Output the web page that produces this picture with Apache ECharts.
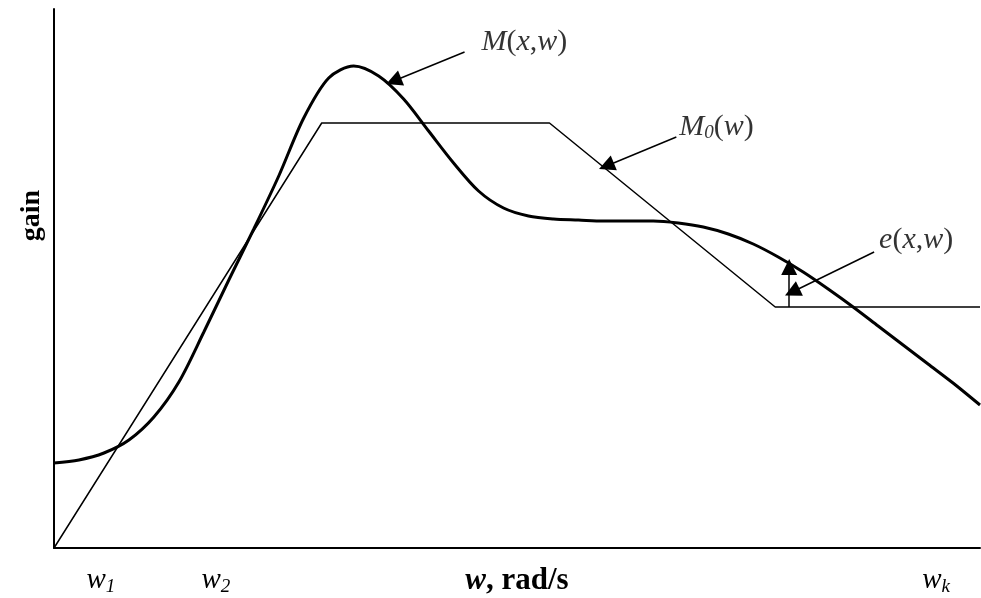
<!DOCTYPE html>
<html>
<head>
<meta charset="utf-8">
<script src="https://cdn.jsdelivr.net/npm/echarts@6/dist/echarts.min.js"></script>
<style>
html,body{margin:0;padding:0;background:#fff;}
#chart{width:981px;height:598px;}
</style>
</head>
<body>
<div id="chart"></div>
<script>
// Frequency axis (arbitrary units) and gain (arbitrary units)
const curveW    = [0, 25, 50, 75, 100, 125, 150, 175, 200, 225, 250, 275, 300, 325, 350, 375, 400, 425, 450, 475, 500, 525, 550, 575, 600, 625, 650, 675, 700, 725, 750, 775, 800, 825, 850, 875, 900, 927];
const curveGain = [85, 88, 95, 108, 131, 166, 216, 268, 319, 372, 430, 470, 482, 472, 449, 417, 385, 357, 340, 332, 329, 328, 327, 327, 327, 325, 321, 314, 304, 291, 276, 259, 241, 222, 203, 184, 165, 143];
const targetW    = [0, 268, 496, 722, 927];
const targetGain = [0, 425, 425, 241, 241];
const tickW      = [47, 162, 883];
const tickNames  = ['1', '2', 'k'];
const errorW     = 736;
const errorFrom  = 241;
const errorTo    = 281;
const labelPos   = [[428, 506], [626, 421], [826, 308]];
const leaderFrom = [[411, 496], [623, 411], [821, 296]];
const leaderTo   = [[340, 467], [553, 382], [739, 256]];

const FONT = '"Liberation Serif","Times New Roman",serif';
const chart = echarts.init(document.getElementById('chart'));

const italic = {fontFamily: FONT, fontStyle: 'italic', fontSize: 30, color: '#000'};
const normal = {fontFamily: FONT, fontSize: 30, color: '#000'};
const tickW2 = {fontFamily: FONT, fontStyle: 'italic', fontSize: 29, color: '#000'};
const subS = {fontFamily: FONT, fontStyle: 'italic', fontSize: 19, color: '#000', padding: [12, 0, 0, 0]};

const labelTexts = [
  '{i|M}{n|(}{i|x}{n|,}{i|w}{n|)}',
  '{i|M}{s|0}{n|(}{i|w}{n|)}',
  '{i|e}{n|(}{i|x}{n|,}{i|w}{n|)}'
];

const leaderLines = leaderFrom.map((p, k) => [{coord: p}, {coord: leaderTo[k]}]);
leaderLines.push([{coord: [errorW, errorFrom]}, {coord: [errorW, errorTo]}]);

chart.setOption({
  animation: false,
  grid: {left: 54, right: 1, top: 9, bottom: 50, containLabel: false, outerBoundsMode: 'none'},
  xAxis: {
    type: 'value', min: 0, max: 927,
    axisLine: {show: true, lineStyle: {color: '#000', width: 2}},
    axisTick: {show: false},
    splitLine: {show: false},
    axisLabel: {
      show: true, customValues: tickW, margin: 17,
      formatter: (v) => {
        const k = tickW.indexOf(v);
        return '{w|w}{s|' + tickNames[k] + '}';
      },
      rich: {w: tickW2, s: subS}
    },
    name: '{b|w}{c|, rad/s}', nameLocation: 'middle', nameGap: 17, nameMoveOverlap: false,
    nameTextStyle: {
      rich: {
        b: {fontFamily: FONT, fontStyle: 'italic', fontWeight: 'bold', fontSize: 31, color: '#000'},
        c: {fontFamily: FONT, fontWeight: 'bold', fontSize: 31, color: '#000'}
      }
    }
  },
  yAxis: {
    type: 'value', min: 0, max: 539,
    axisLine: {show: true, lineStyle: {color: '#000', width: 2}},
    axisTick: {show: false},
    axisLabel: {show: false},
    splitLine: {show: false}
  },
  graphic: [{
    type: 'text', left: 18, top: 190, rotation: Math.PI / 2,
    style: {text: 'gain', font: 'bold 28px ' + FONT, fill: '#000'}
  }],
  series: [
    {
      type: 'line', data: curveW.map((w, k) => [w, curveGain[k]]),
      smooth: 0.3, showSymbol: false, lineStyle: {color: '#000', width: 3}, z: 3
    },
    {
      type: 'line', data: targetW.map((w, k) => [w, targetGain[k]]),
      showSymbol: false, lineStyle: {color: '#000', width: 1.5}, z: 2
    },
    {
      type: 'scatter', data: labelPos, symbolSize: 0, silent: true,
      label: {
        show: true, position: 'right', distance: 0, color: '#000',
        formatter: (p) => labelTexts[p.dataIndex],
        rich: {i: italic, n: normal, s: subS}
      }
    },
    {
      type: 'line', data: [], silent: true,
      markLine: {
        silent: true, animation: false,
        symbol: ['none', 'triangle'], symbolSize: 16,
        label: {show: false},
        itemStyle: {color: '#000'},
        lineStyle: {color: '#000', width: 1.5, type: 'solid'},
        data: leaderLines
      }
    }
  ]
});
</script>
</body>
</html>
